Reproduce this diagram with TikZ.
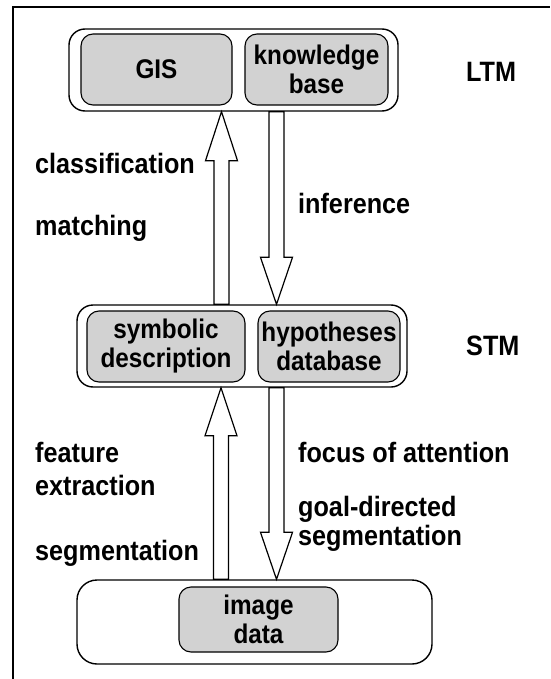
\documentclass[tikz,border=0pt]{standalone}
\usepackage{fontspec}
\setmainfont{Liberation Sans}[FakeStretch=0.9]
\usetikzlibrary{calc}
\newcommand\vblockarrow[3]{%
  \draw[barrow] let \p1=#1, \p2=#2, \p3=($#2!#3!#1$) in
    (\x1-7.5pt,\y1) -- (\x1-7.5pt,\y3) -- (\x1-16pt,\y3) -- (\x2,\y2)
    -- (\x1+16pt,\y3) -- (\x1+7.5pt,\y3) -- (\x1+7.5pt,\y1) -- cycle;}
\begin{document}
\begin{tikzpicture}[x=1pt,y=-1pt,
  container/.style={draw, line width=1.4pt, rounded corners=16pt, inner sep=0pt, fill=white},
  inbox/.style={draw, line width=1.1pt, rounded corners=12pt, inner sep=0pt, fill=gray!35,
    align=center, font=\fontsize{27}{29}\selectfont\bfseries},
  lbl/.style={inner sep=0pt, anchor=base west, font=\fontsize{28}{30}\selectfont\bfseries},
  barrow/.style={draw, line width=1.2pt, fill=white, line join=miter}]
\useasboundingbox (0,0) rectangle (550,679);
\fill[white] (0,0) rectangle (550,679);
% frame
\draw[line width=2.5pt] (13,679) -- (13,7) -- (550,7);
% LTM
\node[container, minimum width=329pt, minimum height=82pt] (ltm) at (233.5,70) {};
\node[inbox, minimum width=151pt, minimum height=71pt] (gis) at (156.5,69.5) {GIS};
\node[inbox, minimum width=143pt, minimum height=71pt] (kb) at (316.5,69.5) {knowledge\\base};
\node[lbl] (ltmlbl) at (466,82) {LTM};
% STM
\node[container, minimum width=330pt, minimum height=82pt] (stm) at (242,346) {};
\node[inbox, minimum width=158pt, minimum height=71pt] (sd) at (166,346.5) {symbolic\\description};
\node[inbox, minimum width=142pt, minimum height=71pt] (hd) at (329,346.5) {hypotheses\\database};
\node[lbl] (stmlbl) at (466,355) {STM};
% image level
\node[container, rounded corners=20pt, minimum width=355pt, minimum height=84pt] (bot) at (254.5,622) {};
\node[inbox, minimum width=159pt, minimum height=65pt] (img) at (258.5,619.5) {image\\data};
% arrows
\vblockarrow{(221.5,0 |- stm.north)}{(221.5,0 |- ltm.south)}{49pt}
\vblockarrow{(276.5,0 |- ltm.south)}{(276.5,0 |- stm.north)}{47pt}
\vblockarrow{(221,0 |- bot.north)}{(221,0 |- stm.south)}{48pt}
\vblockarrow{(276.5,0 |- stm.south)}{(276.5,0 |- bot.north)}{47pt}
% labels
\node[lbl] (l1) at (35,174) {classification};
\node[lbl] (l2) at (35,235) {matching};
\node[lbl] (l3) at (298,213) {inference};
\node[lbl] (l4) at (35,462) {feature};
\node[lbl] (l5) at (35,495) {extraction};
\node[lbl] (l6) at (35,560) {segmentation};
\node[lbl] (l7) at (298,462) {focus of attention};
\node[lbl] (l8) at (298,516) {goal-directed};
\node[lbl] (l9) at (298,545) {segmentation};
\end{tikzpicture}
\end{document}
